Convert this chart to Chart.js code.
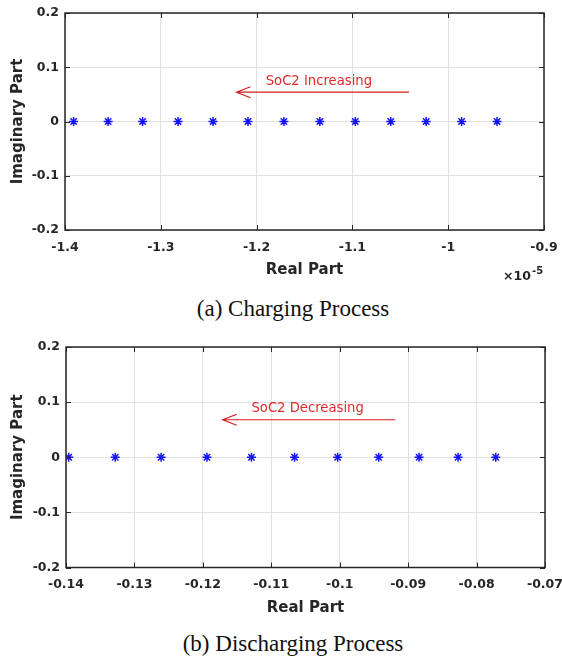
<!DOCTYPE html>
<html>
<head>
<meta charset="utf-8">
<script src="https://cdn.jsdelivr.net/npm/chart.js@4.4.0/dist/chart.umd.min.js"></script>
<style>
  body { margin: 0; background: #fff; }
  #wrap { position: relative; width: 562px; height: 659px; }
  canvas { position: absolute; left: 0; }
  .cap {
    position: absolute; left: 293px; transform: translateX(-50%);
    font-family: "Liberation Serif", serif; font-size: 23px; line-height: 23px;
    white-space: nowrap; color: #111;
  }
</style>
</head>
<body>
<div id="wrap">
  <canvas id="chartCharge" width="562" height="290" style="top:0"></canvas>
  <div class="cap" style="top:297px">(a) Charging Process</div>
  <canvas id="chartDischarge" width="562" height="294" style="top:334px"></canvas>
  <div class="cap" style="top:632px">(b) Discharging Process</div>
</div>
<script>
// poles: real part / imaginary part
const chargeReal = [-1.391e-5, -1.355e-5, -1.319e-5, -1.282e-5, -1.2455e-5, -1.209e-5, -1.1715e-5,
                    -1.134e-5, -1.097e-5, -1.060e-5, -1.023e-5, -0.986e-5, -0.949e-5];
const chargeImag = [0, 0, 0, 0, 0, 0, 0, 0, 0, 0, 0, 0, 0];
const dischargeReal = [-0.1396, -0.1328, -0.1261, -0.1194, -0.1129, -0.1066, -0.1003,
                       -0.0943, -0.0884, -0.0827, -0.0772];
const dischargeImag = [0, 0, 0, 0, 0, 0, 0, 0, 0, 0, 0];

// ticks (charging axis is in units of 1e-5)
const chargeXTicks = [-1.4, -1.3, -1.2, -1.1, -1.0, -0.9];
const chargeXLabels = ['-1.4', '-1.3', '-1.2', '-1.1', '-1', '-0.9'];
const dischargeXTicks = [-0.14, -0.13, -0.12, -0.11, -0.10, -0.09, -0.08, -0.07];
const dischargeXLabels = ['-0.14', '-0.13', '-0.12', '-0.11', '-0.1', '-0.09', '-0.08', '-0.07'];
const yTicks = [-0.2, -0.1, 0, 0.1, 0.2];
const yLabels = ['-0.2', '-0.1', '0', '0.1', '0.2'];

// arrow notes
const chargeNote = { text: 'SoC2 Increasing', textX: -1.1905e-5, textY: 0.068, fromX: -1.041e-5, toX: -1.221e-5, arrowY: 0.054 };
const dischargeNote = { text: 'SoC2 Decreasing', textX: -0.1129, textY: 0.082, fromX: -0.0919, toX: -0.1171, arrowY: 0.068 };

const AXIS = '#262626';
const GRID = '#e1e1e1';
const tickFont = { family: 'DejaVu Sans', size: 12.5, weight: 'bold' };
const titleFont = { family: 'DejaVu Sans', size: 15, weight: 'bold' };

// box, inner ticks, arrow note and exponent label
const boxPlugin = {
  id: 'box',
  afterDatasetsDraw(chart, args, opts) {
    const { ctx, chartArea: a, scales: { x, y } } = chart;
    ctx.save();
    ctx.strokeStyle = AXIS;
    ctx.lineWidth = 1;
    ctx.beginPath();
    x.ticks.forEach(t => {
      const px = Math.round(x.getPixelForValue(t.value)) + 0.5;
      ctx.moveTo(px, a.bottom); ctx.lineTo(px, a.bottom - 5);
      ctx.moveTo(px, a.top); ctx.lineTo(px, a.top + 5);
    });
    y.ticks.forEach(t => {
      const py = Math.round(y.getPixelForValue(t.value)) + 0.5;
      ctx.moveTo(a.left, py); ctx.lineTo(a.left + 5, py);
      ctx.moveTo(a.right, py); ctx.lineTo(a.right - 5, py);
    });
    ctx.stroke();
    ctx.lineWidth = 1.5;
    ctx.strokeRect(a.left, a.top, a.width, a.height);

    const n = opts.note;
    const x0 = x.getPixelForValue(n.fromX);
    const x1 = x.getPixelForValue(n.toX);
    const ay = y.getPixelForValue(n.arrowY);
    ctx.strokeStyle = '#d41e1e';
    ctx.lineWidth = 1.2;
    ctx.beginPath();
    ctx.moveTo(x0, ay); ctx.lineTo(x1, ay);
    ctx.moveTo(x1 + 14, ay - 5.5); ctx.lineTo(x1, ay); ctx.lineTo(x1 + 14, ay + 5.5);
    ctx.stroke();
    ctx.fillStyle = '#e02a2a';
    ctx.font = '13.2px "DejaVu Sans"';
    ctx.textBaseline = 'alphabetic';
    ctx.textAlign = 'left';
    ctx.fillText(n.text, x.getPixelForValue(n.textX), y.getPixelForValue(n.textY));

    if (opts.exponent) {
      ctx.fillStyle = AXIS;
      ctx.font = 'bold 12.5px "DejaVu Sans"';
      ctx.fillText('\u00d710', a.right - 41, a.bottom + 50);
      ctx.font = 'bold 10px "DejaVu Sans"';
      ctx.fillText(opts.exponent, a.right - 12, a.bottom + 43.5);
    }
    ctx.restore();
  }
};

function makeChart(id, real, imag, xTicks, xLabels, factor, area, note, exponent) {
  const canvas = document.getElementById(id);
  const H = canvas.height;
  return new Chart(canvas.getContext('2d'), {
    type: 'scatter',
    data: {
      datasets: [{
        data: real.map((v, i) => ({ x: v, y: imag[i] })),
        pointStyle: 'star',
        pointRadius: 4.5,
        borderWidth: 1.5,
        borderColor: 'rgb(20,20,255)',
        backgroundColor: 'rgb(20,20,255)'
      }]
    },
    options: {
      responsive: false,
      animation: false,
      events: [],
      layout: { padding: { left: 0, top: area.top, right: 562 - area.right, bottom: 0 } },
      plugins: {
        legend: { display: false },
        tooltip: { enabled: false },
        box: { note: note, exponent: exponent }
      },
      scales: {
        x: {
          type: 'linear',
          min: xTicks[0] * factor,
          max: xTicks[xTicks.length - 1] * factor,
          afterBuildTicks: s => { s.ticks = xTicks.map(v => ({ value: v * factor })); },
          afterFit: s => {
            s.height = H - area.bottom;
            s.paddingLeft = 0;
            s.paddingRight = 0;
          },
          ticks: {
            callback: (v, i) => xLabels[i],
            color: AXIS, font: tickFont, padding: 10, maxRotation: 0, autoSkip: false
          },
          grid: { color: GRID, drawTicks: false },
          border: { display: false },
          title: {
            display: true, text: 'Real Part', color: AXIS, font: titleFont,
            padding: { top: 0, bottom: 10.5 }
          }
        },
        y: {
          min: -0.2,
          max: 0.2,
          afterBuildTicks: s => { s.ticks = yTicks.map(v => ({ value: v })); },
          afterFit: s => {
            s.width = area.left;
            s.paddingTop = 0;
            s.paddingBottom = 0;
          },
          ticks: {
            callback: (v, i) => yLabels[i],
            color: AXIS, font: tickFont, padding: 6, autoSkip: false
          },
          grid: { color: GRID, drawTicks: false },
          border: { display: false },
          title: {
            display: true, text: 'Imaginary Part', color: AXIS, font: titleFont,
            padding: { top: 9.4, bottom: 0 }
          }
        }
      }
    },
    plugins: [boxPlugin]
  });
}

makeChart('chartCharge', chargeReal, chargeImag, chargeXTicks, chargeXLabels, 1e-5,
  { left: 65, top: 13, right: 544, bottom: 230 }, chargeNote, '-5');
makeChart('chartDischarge', dischargeReal, dischargeImag, dischargeXTicks, dischargeXLabels, 1,
  { left: 66, top: 13, right: 545, bottom: 233.5 }, dischargeNote, null);
</script>
</body>
</html>
